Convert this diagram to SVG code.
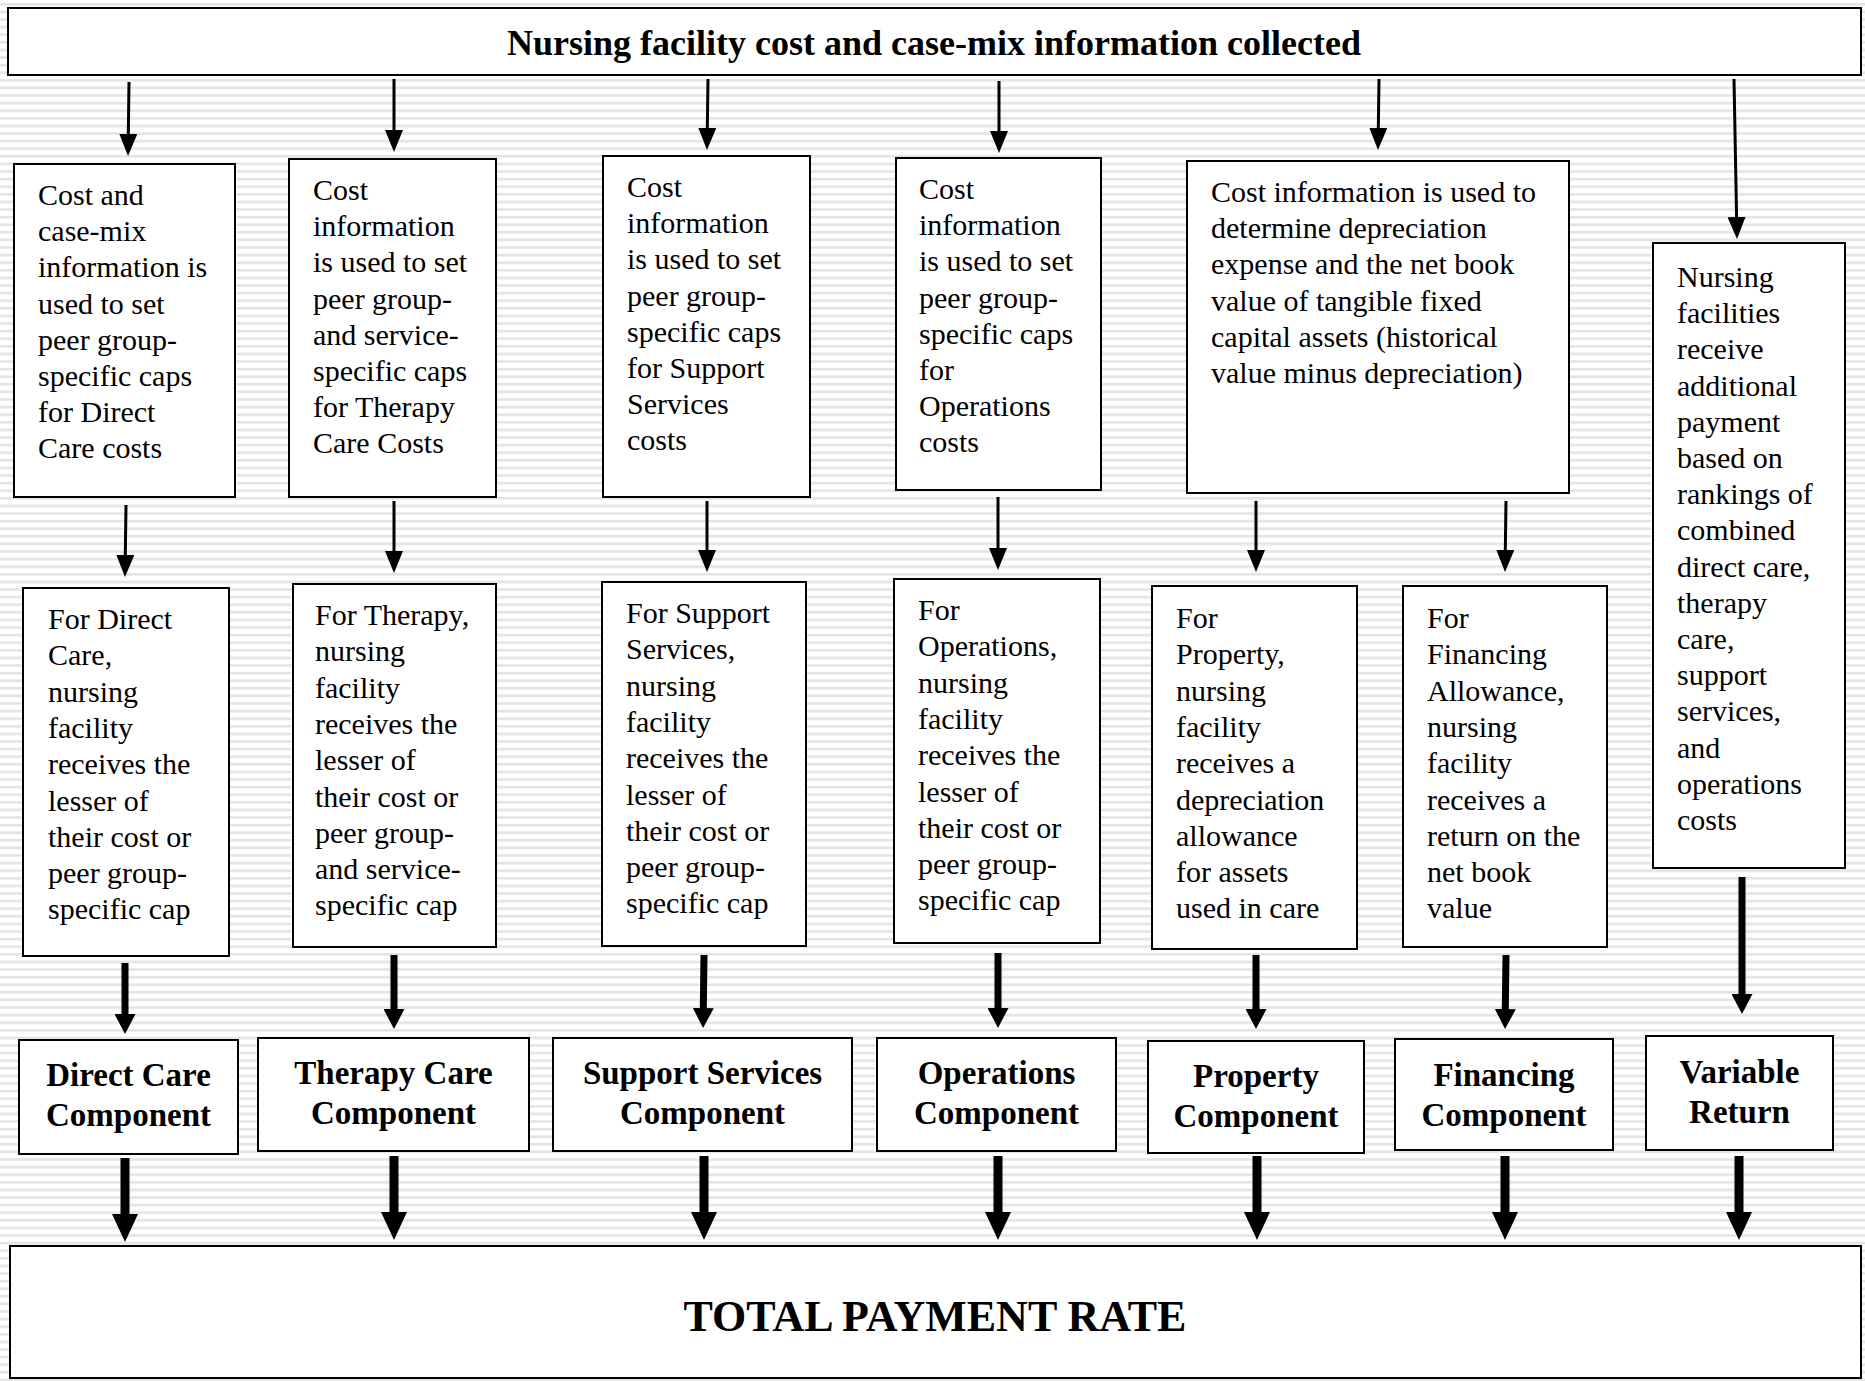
<svg xmlns="http://www.w3.org/2000/svg" width="1865" height="1381" viewBox="0 0 1865 1381">
<defs>
<pattern id="stripes" patternUnits="userSpaceOnUse" x="0" y="3" width="20" height="7.6">
<rect x="0" y="0" width="20" height="7.6" fill="#ffffff"/>
<rect x="0" y="0" width="20" height="2.6" fill="#e4e4e4"/>
</pattern>
<marker id="h1" markerUnits="userSpaceOnUse" viewBox="0 -9 22 18" refX="1" refY="0" markerWidth="22" markerHeight="18" orient="auto"><path d="M0,-9 L22,0 L0,9 Z" fill="#000"/></marker>
<marker id="h2" markerUnits="userSpaceOnUse" viewBox="0 -10.5 20 21" refX="1" refY="0" markerWidth="20" markerHeight="21" orient="auto"><path d="M0,-10.5 L20,0 L0,10.5 Z" fill="#000"/></marker>
<marker id="h3" markerUnits="userSpaceOnUse" viewBox="0 -13 28 26" refX="1" refY="0" markerWidth="28" markerHeight="26" orient="auto"><path d="M0,-13 L28,0 L0,13 Z" fill="#000"/></marker>
</defs>
<style>
.box{fill:#fff;stroke:#000;stroke-width:2}
.t{font-family:"Liberation Serif","Times New Roman",serif;font-size:30px;fill:#000}
.b{font-family:"Liberation Serif","Times New Roman",serif;font-size:33px;font-weight:bold;text-anchor:middle;fill:#000}
.a1{stroke:#000;stroke-width:3;fill:none;marker-end:url(#h1)}
.a2{stroke:#000;stroke-width:7;fill:none;marker-end:url(#h2)}
.a3{stroke:#000;stroke-width:9;fill:none;marker-end:url(#h3)}
</style>
<rect x="0" y="0" width="1865" height="1381" fill="url(#stripes)"/>

<g id="top">
<rect class="box" x="8" y="8" width="1853" height="67"/>
<text class="b" x="934" y="55" style="font-size:36px">Nursing facility cost and case-mix information collected</text>
</g>

<g id="cap-direct">
<rect class="box" x="14" y="164" width="221" height="333"/>
<text class="t" x="38" y="205"><tspan x="38">Cost and</tspan><tspan x="38" dy="36.2">case-mix</tspan><tspan x="38" dy="36.2">information is</tspan><tspan x="38" dy="36.2">used to set</tspan><tspan x="38" dy="36.2">peer group-</tspan><tspan x="38" dy="36.2">specific caps</tspan><tspan x="38" dy="36.2">for Direct</tspan><tspan x="38" dy="36.2">Care costs</tspan></text>
</g>
<g id="cap-therapy">
<rect class="box" x="289" y="159" width="207" height="338"/>
<text class="t" x="313" y="200"><tspan x="313">Cost</tspan><tspan x="313" dy="36.2">information</tspan><tspan x="313" dy="36.2">is used to set</tspan><tspan x="313" dy="36.2">peer group-</tspan><tspan x="313" dy="36.2">and service-</tspan><tspan x="313" dy="36.2">specific caps</tspan><tspan x="313" dy="36.2">for Therapy</tspan><tspan x="313" dy="36.2">Care Costs</tspan></text>
</g>
<g id="cap-support">
<rect class="box" x="603" y="156" width="207" height="341"/>
<text class="t" x="627" y="197"><tspan x="627">Cost</tspan><tspan x="627" dy="36.2">information</tspan><tspan x="627" dy="36.2">is used to set</tspan><tspan x="627" dy="36.2">peer group-</tspan><tspan x="627" dy="36.2">specific caps</tspan><tspan x="627" dy="36.2">for Support</tspan><tspan x="627" dy="36.2">Services</tspan><tspan x="627" dy="36.2">costs</tspan></text>
</g>
<g id="cap-operations">
<rect class="box" x="896" y="158" width="205" height="332"/>
<text class="t" x="919" y="199"><tspan x="919">Cost</tspan><tspan x="919" dy="36.2">information</tspan><tspan x="919" dy="36.2">is used to set</tspan><tspan x="919" dy="36.2">peer group-</tspan><tspan x="919" dy="36.2">specific caps</tspan><tspan x="919" dy="36.2">for</tspan><tspan x="919" dy="36.2">Operations</tspan><tspan x="919" dy="36.2">costs</tspan></text>
</g>
<g id="depreciation">
<rect class="box" x="1187" y="161" width="382" height="332"/>
<text class="t" x="1211" y="202"><tspan x="1211">Cost information is used to</tspan><tspan x="1211" dy="36.2">determine depreciation</tspan><tspan x="1211" dy="36.2">expense and the net book</tspan><tspan x="1211" dy="36.2">value of tangible fixed</tspan><tspan x="1211" dy="36.2">capital assets (historical</tspan><tspan x="1211" dy="36.2">value minus depreciation)</tspan></text>
</g>
<g id="variable-info">
<rect class="box" x="1653" y="243" width="192" height="625"/>
<text class="t" x="1677" y="287"><tspan x="1677">Nursing</tspan><tspan x="1677" dy="36.2">facilities</tspan><tspan x="1677" dy="36.2">receive</tspan><tspan x="1677" dy="36.2">additional</tspan><tspan x="1677" dy="36.2">payment</tspan><tspan x="1677" dy="36.2">based on</tspan><tspan x="1677" dy="36.2">rankings of</tspan><tspan x="1677" dy="36.2">combined</tspan><tspan x="1677" dy="36.2">direct care,</tspan><tspan x="1677" dy="36.2">therapy</tspan><tspan x="1677" dy="36.2">care,</tspan><tspan x="1677" dy="36.2">support</tspan><tspan x="1677" dy="36.2">services,</tspan><tspan x="1677" dy="36.2">and</tspan><tspan x="1677" dy="36.2">operations</tspan><tspan x="1677" dy="36.2">costs</tspan></text>
</g>

<g id="rule-direct">
<rect class="box" x="23" y="588" width="206" height="368"/>
<text class="t" x="48" y="629"><tspan x="48">For Direct</tspan><tspan x="48" dy="36.3">Care,</tspan><tspan x="48" dy="36.3">nursing</tspan><tspan x="48" dy="36.3">facility</tspan><tspan x="48" dy="36.3">receives the</tspan><tspan x="48" dy="36.3">lesser of</tspan><tspan x="48" dy="36.3">their cost or</tspan><tspan x="48" dy="36.3">peer group-</tspan><tspan x="48" dy="36.3">specific cap</tspan></text>
</g>
<g id="rule-therapy">
<rect class="box" x="293" y="584" width="203" height="363"/>
<text class="t" x="315" y="625"><tspan x="315">For Therapy,</tspan><tspan x="315" dy="36.3">nursing</tspan><tspan x="315" dy="36.3">facility</tspan><tspan x="315" dy="36.3">receives the</tspan><tspan x="315" dy="36.3">lesser of</tspan><tspan x="315" dy="36.3">their cost or</tspan><tspan x="315" dy="36.3">peer group-</tspan><tspan x="315" dy="36.3">and service-</tspan><tspan x="315" dy="36.3">specific cap</tspan></text>
</g>
<g id="rule-support">
<rect class="box" x="602" y="582" width="204" height="364"/>
<text class="t" x="626" y="623"><tspan x="626">For Support</tspan><tspan x="626" dy="36.3">Services,</tspan><tspan x="626" dy="36.3">nursing</tspan><tspan x="626" dy="36.3">facility</tspan><tspan x="626" dy="36.3">receives the</tspan><tspan x="626" dy="36.3">lesser of</tspan><tspan x="626" dy="36.3">their cost or</tspan><tspan x="626" dy="36.3">peer group-</tspan><tspan x="626" dy="36.3">specific cap</tspan></text>
</g>
<g id="rule-operations">
<rect class="box" x="894" y="579" width="206" height="364"/>
<text class="t" x="918" y="620"><tspan x="918">For</tspan><tspan x="918" dy="36.3">Operations,</tspan><tspan x="918" dy="36.3">nursing</tspan><tspan x="918" dy="36.3">facility</tspan><tspan x="918" dy="36.3">receives the</tspan><tspan x="918" dy="36.3">lesser of</tspan><tspan x="918" dy="36.3">their cost or</tspan><tspan x="918" dy="36.3">peer group-</tspan><tspan x="918" dy="36.3">specific cap</tspan></text>
</g>
<g id="rule-property">
<rect class="box" x="1152" y="586" width="205" height="363"/>
<text class="t" x="1176" y="628"><tspan x="1176">For</tspan><tspan x="1176" dy="36.3">Property,</tspan><tspan x="1176" dy="36.3">nursing</tspan><tspan x="1176" dy="36.3">facility</tspan><tspan x="1176" dy="36.3">receives a</tspan><tspan x="1176" dy="36.3">depreciation</tspan><tspan x="1176" dy="36.3">allowance</tspan><tspan x="1176" dy="36.3">for assets</tspan><tspan x="1176" dy="36.3">used in care</tspan></text>
</g>
<g id="rule-financing">
<rect class="box" x="1403" y="586" width="204" height="361"/>
<text class="t" x="1427" y="628"><tspan x="1427">For</tspan><tspan x="1427" dy="36.3">Financing</tspan><tspan x="1427" dy="36.3">Allowance,</tspan><tspan x="1427" dy="36.3">nursing</tspan><tspan x="1427" dy="36.3">facility</tspan><tspan x="1427" dy="36.3">receives a</tspan><tspan x="1427" dy="36.3">return on the</tspan><tspan x="1427" dy="36.3">net book</tspan><tspan x="1427" dy="36.3">value</tspan></text>
</g>

<g id="comp-direct">
<rect class="box" x="19" y="1040" width="219" height="114"/>
<text class="b" x="128.5" y="1086"><tspan x="128.5">Direct Care</tspan><tspan x="128.5" dy="40">Component</tspan></text>
</g>
<g id="comp-therapy">
<rect class="box" x="258" y="1038" width="271" height="113"/>
<text class="b" x="393.5" y="1084"><tspan x="393.5">Therapy Care</tspan><tspan x="393.5" dy="40">Component</tspan></text>
</g>
<g id="comp-support">
<rect class="box" x="553" y="1038" width="299" height="113"/>
<text class="b" x="702.5" y="1084"><tspan x="702.5">Support Services</tspan><tspan x="702.5" dy="40">Component</tspan></text>
</g>
<g id="comp-operations">
<rect class="box" x="877" y="1038" width="239" height="113"/>
<text class="b" x="996.5" y="1084"><tspan x="996.5">Operations</tspan><tspan x="996.5" dy="40">Component</tspan></text>
</g>
<g id="comp-property">
<rect class="box" x="1148" y="1041" width="216" height="112"/>
<text class="b" x="1256" y="1087"><tspan x="1256">Property</tspan><tspan x="1256" dy="40">Component</tspan></text>
</g>
<g id="comp-financing">
<rect class="box" x="1395" y="1039" width="218" height="111"/>
<text class="b" x="1504" y="1086"><tspan x="1504">Financing</tspan><tspan x="1504" dy="40">Component</tspan></text>
</g>
<g id="comp-variable">
<rect class="box" x="1646" y="1036" width="187" height="114"/>
<text class="b" x="1739.5" y="1083"><tspan x="1739.5">Variable</tspan><tspan x="1739.5" dy="40">Return</tspan></text>
</g>

<g id="total">
<rect class="box" x="10" y="1246" width="1851" height="132"/>
<text class="b" x="935" y="1331" style="font-size:44px">TOTAL PAYMENT RATE</text>
</g>

<g id="connectors">
<path class="a1" d="M129,82 L128.3,135"/>
<path class="a1" d="M394,79 L394,131"/>
<path class="a1" d="M708,79 L707.3,129"/>
<path class="a1" d="M999,81 L999,132"/>
<path class="a1" d="M1379,79 L1378.3,129"/>
<path class="a1" d="M1734,79 L1736.6,218"/>
<path class="a1" d="M126,505 L125.3,556"/>
<path class="a1" d="M394,501 L394,552"/>
<path class="a1" d="M707,501 L707,551"/>
<path class="a1" d="M998,497 L998,549"/>
<path class="a1" d="M1256,501 L1256,551"/>
<path class="a1" d="M1506,501 L1505.3,551"/>
<path class="a2" d="M125,963 L125,1015"/>
<path class="a2" d="M394,955 L394,1010"/>
<path class="a2" d="M704,955 L703.3,1009"/>
<path class="a2" d="M998,953 L998,1009"/>
<path class="a2" d="M1256,955 L1256,1010"/>
<path class="a2" d="M1506,955 L1505.3,1010"/>
<path class="a2" d="M1742,877 L1742,995"/>
<path class="a3" d="M125,1158 L125,1215"/>
<path class="a3" d="M394,1156 L394,1213"/>
<path class="a3" d="M704,1156 L704,1213"/>
<path class="a3" d="M998,1156 L998,1213"/>
<path class="a3" d="M1257,1156 L1257,1213"/>
<path class="a3" d="M1505,1156 L1505,1213"/>
<path class="a3" d="M1739,1156 L1739,1213"/>
</g>
</svg>
